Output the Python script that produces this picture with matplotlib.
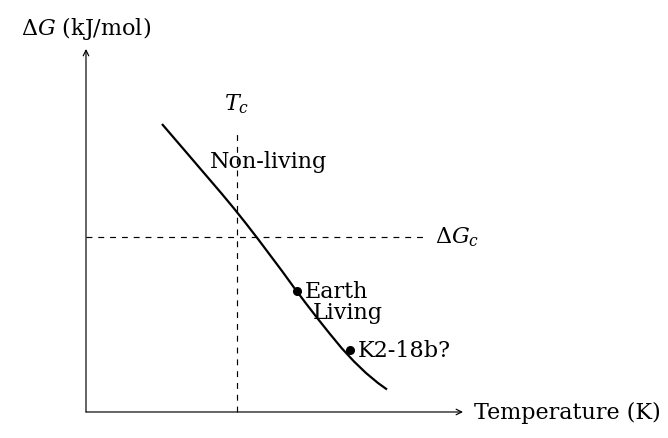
import matplotlib.pyplot as plt

plt.rcParams['font.family'] = ['DejaVu Serif']
plt.rcParams['mathtext.fontset'] = 'dejavuserif'

# curve (diagram units, origin at the axes corner)
temp = [2.016, 2.334, 2.653, 2.971, 3.289, 3.607, 3.926, 4.244, 4.562, 4.881,
        5.199, 5.517, 5.836, 6.154, 6.472, 6.790, 7.109, 7.427, 7.745, 7.984]
dg = [7.639, 7.268, 6.897, 6.525, 6.154, 5.782, 5.398, 5.000, 4.589, 4.164,
      3.740, 3.302, 2.878, 2.467, 2.069, 1.684, 1.340, 1.034, 0.769, 0.597]

# marked planets
planet_names = ["Earth", "K2-18b?"]
planet_t = [5.60, 7.00]
planet_dg = [3.21, 1.645]

t_crit = 4.0
dg_crit = 4.65
x_end, y_end = 10.0, 9.63

fig = plt.figure(figsize=(6.68, 4.39), dpi=100)
ax = fig.add_axes([0, 0, 1, 1])
ax.set_xlim(-2.281, 15.438)
ax.set_ylim(-0.690, 10.955)
ax.axis("off")

arrow = dict(arrowstyle="->,head_length=0.4,head_width=0.2", lw=0.85,
             color="black", shrinkA=0, shrinkB=0)
ax.annotate("", xy=(x_end, 0), xytext=(0, 0), arrowprops=arrow)
ax.annotate("", xy=(0, y_end), xytext=(0, 0), arrowprops=arrow)

fs = 16
ax.text(x_end + 0.3, 0, "Temperature (K)", fontsize=fs, va="center", ha="left")
ax.text(0, 10.21, r"$\Delta G$ (kJ/mol)", fontsize=fs, va="center", ha="center")

ax.plot([t_crit, t_crit], [0, 7.45], color="black", lw=0.85, dashes=(5, 5))
ax.text(t_crit, 8.2, r"$T_c$", fontsize=fs, ha="center", va="center")

ax.plot([0, 9.0], [dg_crit, dg_crit], color="black", lw=0.85, dashes=(5, 5))
ax.text(9.25, dg_crit, r"$\Delta G_c$", fontsize=fs, ha="left", va="center")

ax.plot(temp, dg, color="black", lw=1.6, solid_capstyle="butt",
        solid_joinstyle="round")

ax.plot(planet_t, planet_dg, "o", color="black", ms=5.5)
for name, t, g in zip(planet_names, planet_t, planet_dg):
    ax.text(t + 0.2, g, name, fontsize=fs, ha="left", va="center")

ax.text(3.29, 6.66, "Non-living", fontsize=fs, ha="left", va="center")
ax.text(6.02, 2.64, "Living", fontsize=fs, ha="left", va="center")

fig.savefig("out.png", dpi=100)
